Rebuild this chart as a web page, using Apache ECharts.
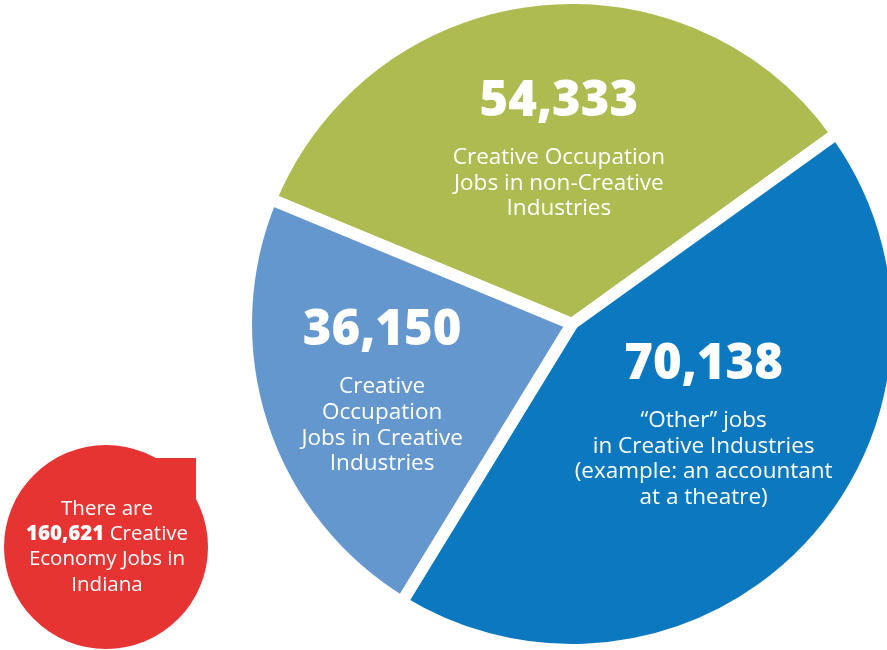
<!DOCTYPE html>
<html>
<head>
<meta charset="utf-8">
<script src="https://cdn.jsdelivr.net/npm/echarts@6/dist/echarts.min.js"></script>
<style>
  html, body { margin: 0; padding: 0; background: #ffffff; }
  #chart { width: 887px; height: 650px; }
</style>
</head>
<body>
<div id="chart"></div>
<script>
// Indiana creative economy jobs, split into three groups
const categories = [
  ['Creative Occupation', 'Jobs in non-Creative', 'Industries'],
  ['\u201cOther\u201d jobs', 'in Creative Industries', '(example: an accountant', 'at a theatre)'],
  ['Creative', 'Occupation', 'Jobs in Creative', 'Industries']
];
const jobCounts = [54333, 70138, 36150];
const sliceColors = ['#AEBB51', '#0C78BF', '#6497CE'];
// nudges for the in-slice label blocks
const labelShift = [[6, -19], [10, -21], [-32, 7]];

const fmt = n => n.toLocaleString('en-US');
const totalJobs = jobCounts.reduce((a, b) => a + b, 0);

const bodyFont = 'Open Sans';
const numFont = 'Open Sans';

const chart = echarts.init(document.getElementById('chart'), null, { renderer: 'canvas' });

chart.setOption({
  animation: false,
  backgroundColor: '#ffffff',
  series: [{
    type: 'pie',
    center: [572, 324],
    radius: [0, 326],
    startAngle: 157.5,
    clockwise: true,
    silent: true,
    emphasis: { disabled: true },
    itemStyle: { borderColor: '#ffffff', borderWidth: 12 },
    label: {
      show: true,
      position: 'inside',
      color: '#ffffff',
      align: 'center',
      formatter: p => {
        const lines = categories[p.dataIndex].map(t => '{txt|' + t + '}');
        return '{num|' + fmt(p.value) + '}\n' + lines.join('\n');
      },
      rich: {
        num: {
          fontFamily: numFont, fontWeight: 800, fontSize: 49,
          color: '#ffffff', lineHeight: 86, align: 'center'
        },
        txt: {
          fontFamily: bodyFont, fontWeight: 400, fontSize: 22.5,
          color: '#ffffff', lineHeight: 25.7, align: 'center'
        }
      }
    },
    labelLine: { show: false },
    labelLayout: p => ({ dx: labelShift[p.dataIndex][0], dy: labelShift[p.dataIndex][1] }),
    data: jobCounts.map((v, i) => ({
      value: v,
      name: categories[i].join(' '),
      itemStyle: { color: sliceColors[i] }
    }))
  }],
  graphic: [
    { type: 'circle', shape: { cx: 106, cy: 547, r: 102 }, style: { fill: '#E63433' } },
    { type: 'rect', shape: { x: 106, y: 458, width: 90, height: 89 }, style: { fill: '#E63433' } },
    {
      type: 'text',
      x: 107, y: 547,
      style: {
        text: 'There are\n{b|' + fmt(totalJobs) + '} Creative\nEconomy Jobs in\nIndiana',
        align: 'center',
        verticalAlign: 'middle',
        fill: '#ffffff',
        fontFamily: bodyFont,
        fontSize: 20.5,
        lineHeight: 25.3,
        rich: {
          b: { fontFamily: numFont, fontWeight: 800, fontSize: 20.5, fill: '#ffffff', lineHeight: 25.3 }
        }
      }
    }
  ]
});
</script>
</body>
</html>
